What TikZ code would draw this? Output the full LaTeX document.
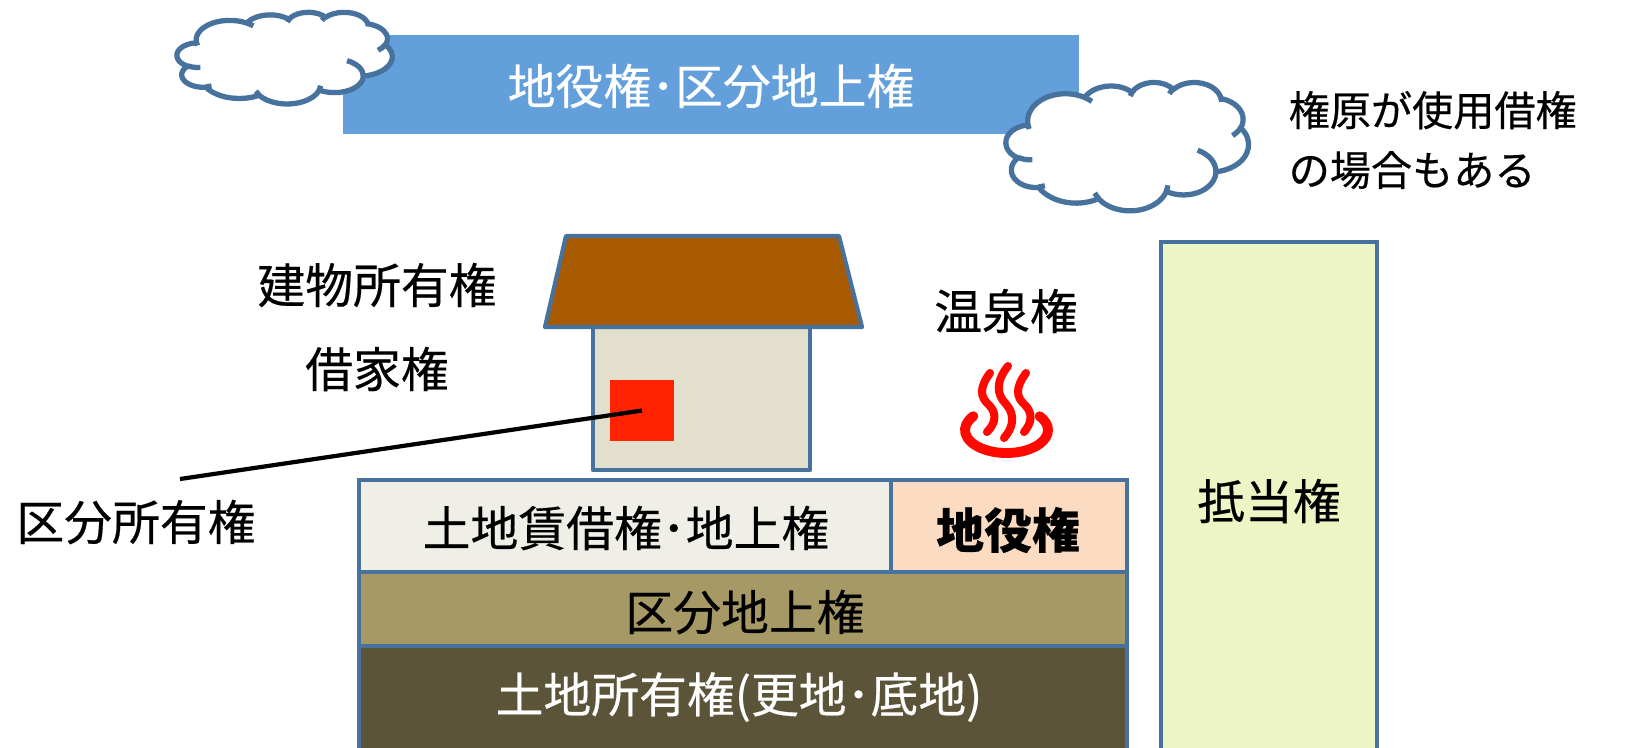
\documentclass[tikz,border=0pt]{standalone}
\usepackage{fontspec}
\setmainfont{Noto Sans CJK JP}[FakeBold=0.4]
\usetikzlibrary{shapes.symbols}

\definecolor{frameblue}{RGB}{71,114,158}
\definecolor{bannerblue}{RGB}{99,160,219}
\definecolor{roofbrown}{RGB}{168,90,0}
\definecolor{wallbeige}{RGB}{226,223,205}
\definecolor{windowred}{RGB}{255,34,0}
\definecolor{leasegray}{RGB}{240,239,231}
\definecolor{easepeach}{RGB}{251,219,193}
\definecolor{subsurface}{RGB}{166,153,102}
\definecolor{groundbrown}{RGB}{92,84,56}
\definecolor{mortgagelime}{RGB}{238,245,196}
\definecolor{onsenred}{RGB}{255,8,0}

\tikzset{
  lbl/.style={font=\fontsize{13.6}{16}\selectfont, inner sep=0pt},
  layer/.style={draw=frameblue, line width=1.3pt},
  puffline/.style={draw=frameblue, line width=1.5pt},
  steam/.style={draw=onsenred, line width=2.3pt, line cap=round},
  % one lobe of the cloud: radii, start angle and sweep (true angles)
  lobe/.style n args={4}{x radius=#1, y radius=#2,
    start angle={atan2(#1*sin(#3),#2*cos(#3))},
    delta angle={mod(atan2(#1*sin(#3+#4),#2*cos(#3+#4))-atan2(#1*sin(#3),#2*cos(#3))+720,360)}},
}

% cloud in a 43.2 x 43.2 box, y pointing down
\newcommand{\cloudpath}{%
  (3.900,14.370) arc[lobe={6.753}{9.190}{-190.4875}{123.7805}]
    arc[lobe={5.333}{7.267}{-144.1024}{89.9452}]
    arc[lobe={4.365}{5.945}{-145.8079}{99.7230}]
    arc[lobe={4.857}{6.595}{-130.9861}{117.2417}]
    arc[lobe={5.333}{7.273}{-78.7089}{109.0269}]
    arc[lobe={6.775}{9.220}{-46.2673}{130.2690}]
    arc[lobe={5.785}{7.867}{0.6250}{114.0333}]
    arc[lobe={6.752}{9.215}{22.4516}{115.1726}]
    arc[lobe={7.720}{10.543}{66.2426}{75.7110}]
    arc[lobe={4.360}{5.918}{-274.9421}{146.7356}]
    arc[lobe={4.345}{5.945}{-246.8285}{152.5189}] -- cycle}
\newcommand{\cloudcurls}{%
  (4.693,26.177) arc[lobe={4.345}{5.945}{86.7420}{26.4295}]
  (6.928,34.899) arc[lobe={4.360}{5.918}{73.6105}{11.4475}]
  (16.478,39.090) arc[lobe={6.752}{9.215}{137.6242}{14.0811}]
  (28.827,34.751) arc[lobe={6.752}{9.215}{6.4533}{15.9984}]
  (34.129,22.954) arc[lobe={5.785}{7.867}{-70.2924}{70.9174}]
  (41.798,15.354) arc[lobe={5.333}{7.273}{30.3180}{27.7515}]
  (38.324,5.426) arc[lobe={4.857}{6.595}{-13.7443}{14.8589}]
  (29.078,3.952) arc[lobe={4.857}{6.595}{-149.1815}{18.1954}]
  (22.141,4.720) arc[lobe={4.365}{5.945}{-163.4943}{17.6864}]
  (14.000,5.192) arc[lobe={6.753}{9.190}{-66.7070}{12.3194}]
  (4.127,15.789) arc[lobe={6.753}{9.190}{157.6544}{11.8582}]}

\begin{document}
\begin{tikzpicture}[x=0.01cm, y=-0.01cm]
  \clip (0,0) rectangle (1644,747);

  % SKY: banner and clouds
  \fill[bannerblue] (343,35) rectangle (1079,134);
  \node[lbl, text=white] (banner) at (711,86) {地役権･区分地上権};
  \begin{scope}[shift={(177,12)}, x=0.0498cm, y=-0.0212cm]
    \filldraw[puffline, fill=white, line join=round] \cloudpath;
    \draw[puffline] \cloudcurls;
  \end{scope}
  \begin{scope}[shift={(1006,82)}, x=0.0561cm, y=-0.0297cm]
    \filldraw[puffline, fill=white, line join=round] \cloudpath;
    \draw[puffline] \cloudcurls;
  \end{scope}
  \node[lbl, font=\fontsize{11.7}{17}\selectfont, anchor=west, align=left] (note)
    at (1288,140) {権原が使用借権\\の場合もある};

  % HOUSE
  \filldraw[fill=wallbeige, draw=frameblue, line width=1.2pt, line join=round]
    (593,327) rectangle (810,470);
  \filldraw[fill=roofbrown, draw=frameblue, line width=1.2pt, line join=round]
    (566,236) -- (839,236) -- (862,327) -- (545,327) -- cycle;
  \node[fill=windowred, minimum width=0.64cm, minimum height=0.61cm, inner sep=0pt]
    (window) at (642,410.5) {};
  \node[lbl] (owner) at (377,285) {建物所有権};
  \node[lbl] (tenant) at (377,369) {借家権};
  \node[lbl] (condo) at (136,522) {区分所有権};
  \coordinate (lead) at (180,479);
  \draw[line width=1.2pt] (lead) -- (window.center);

  % HOT SPRING
  \node[lbl] (onsen) at (1006,311) {温泉権};
  \draw[steam, line width=2.8pt] (1006.5,430) ++(217:41.5 and 23)
    arc[start angle=217, end angle=-37, x radius=41.5, y radius=23];
  \draw[steam] (990,373) .. controls (979,388) and (980,397) .. (989,405)
    .. controls (997,413) and (996,423) .. (987,432);
  \draw[steam] (1008,366) .. controls (996,381) and (996,394) .. (1006,404)
    .. controls (1015,414) and (1014,427) .. (1004,438);
  \draw[steam] (1026,373) .. controls (1015,388) and (1016,397) .. (1025,405)
    .. controls (1033,413) and (1032,423) .. (1024,432);

  % GROUND LAYERS
  \filldraw[layer, fill=groundbrown] (359,646) rectangle (1127,770);
  \filldraw[layer, fill=subsurface] (359,572) rectangle (1127,646);
  \filldraw[layer, fill=leasegray] (359,480) rectangle (891,572);
  \filldraw[layer, fill=easepeach] (891,480) rectangle (1127,572);
  \node[lbl] (lease) at (626,528) {土地賃借権･地上権};
  \node[lbl, font=\fontsize{13.6}{16}\selectfont\bfseries] (easement) at (1008,530) {地役権};
  \node[lbl] (subsurf) at (745,612) {区分地上権};
  \node[lbl, text=white] (land) at (739,697) {土地所有権(更地･底地)};

  % MORTGAGE
  \filldraw[layer, fill=mortgagelime] (1161,242) rectangle (1377,770);
  \node[lbl] (mortgage) at (1269,501) {抵当権};
\end{tikzpicture}
\end{document}
